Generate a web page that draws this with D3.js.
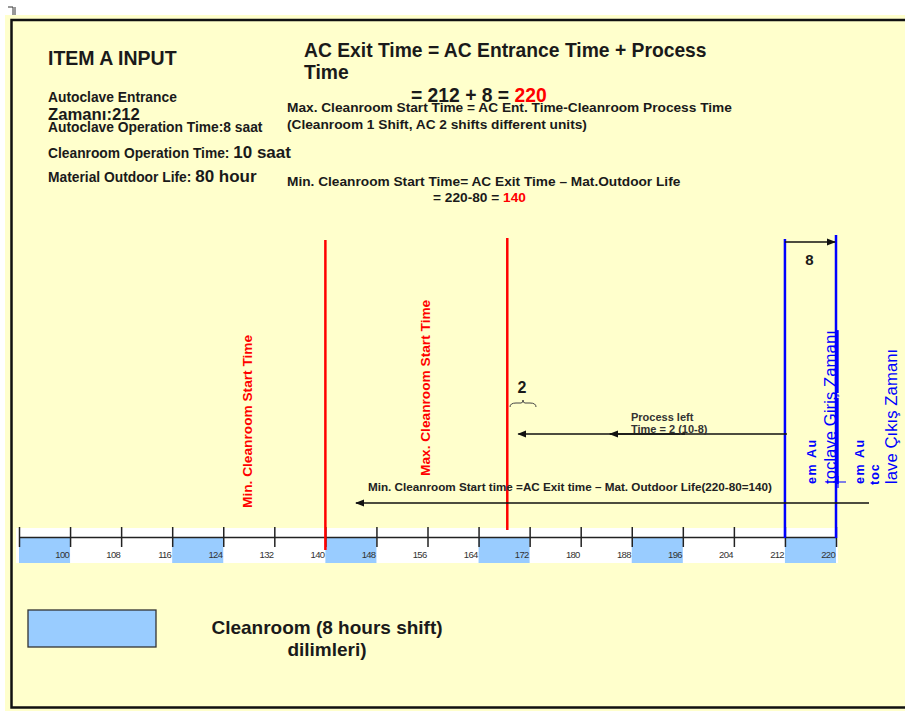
<!DOCTYPE html>
<html><head><meta charset="utf-8">
<script src="https://cdn.jsdelivr.net/npm/d3@7"></script>
<style>body{margin:0;background:#fff}svg{display:block;font-family:"Liberation Sans",Arial,sans-serif}</style>
</head><body><svg id="c" width="905" height="711"></svg>
<script>
// ---- data ----
const tickValues = [92,100,108,116,124,132,140,148,156,164,172,180,188,196,204,212,220];
const tickLabels = ["","100","108","116","124","132","140","148","156","164","172","180","188","196","204","212","220"];
const shiftStarts = [92,116,140,164,188,212];
const shiftLength = 8;
const redLines = [140, 168.5];     // min / max cleanroom start time
const blueLines = [212, 220];      // autoclave entrance / exit
const processLeft = 2;
const acProcess = 8;

const svg = d3.select("#c");
const x = d3.scaleLinear().domain([92,220]).range([19,836]);
const axisY = 537;

// background + frame
svg.append("rect").attr("x",5).attr("y",15).attr("width",900).attr("height",696).attr("fill","#ffffcc");
svg.append("rect").attr("x",11.5).attr("y",20).attr("width",1000).attr("height",687.5)
  .attr("fill","none").attr("stroke","#111").attr("stroke-width",2.5);
svg.append("path").attr("d","M8,7H13V15M15,7V15").attr("stroke","#333").attr("fill","none").attr("stroke-width",1);

const defs = svg.append("defs");
defs.append("marker").attr("id","ah").attr("viewBox","0 0 10 10").attr("refX",9).attr("refY",5)
  .attr("markerWidth",7).attr("markerHeight",7).attr("orient","auto-start-reverse")
  .append("path").attr("d","M0,1L10,5L0,9z").attr("fill","#111");

const dark = "#1a1a1a";
function txt(xp, yp, s, o={}) {
  const t = svg.append("text").attr("x",xp).attr("y",yp).attr("fill",o.fill||dark)
    .attr("font-size",o.size||12).attr("font-weight",o.weight||"bold").text(s);
  if (o.anchor) t.attr("text-anchor",o.anchor);
  if (o.ls) t.attr("letter-spacing",o.ls);
  if (o.rot) t.attr("transform",`rotate(-90,${xp},${yp})`);
  return t;
}

// ---- header texts ----
txt(48,65,"ITEM A INPUT",{size:19.5});
txt(48,102,"Autoclave Entrance",{size:13.8});
txt(48,120,"Zamanı:212",{size:16.7});
txt(48,132,"Autoclave Operation Time:8 saat",{size:13.8});
const t1 = txt(48,158,"Cleanroom Operation Time: ",{size:13.8});
t1.append("tspan").attr("font-size",17).text("10 saat");
const t2 = txt(48,182,"Material Outdoor Life: ",{size:13.8});
t2.append("tspan").attr("font-size",17).text("80 hour");

txt(304,57,"AC Exit Time = AC Entrance Time + Process",{size:19.3});
txt(304,79,"Time",{size:19.3});
const t3 = txt(411,102,"= 212 + 8 = ",{size:19.3});
t3.append("tspan").attr("fill","#ff0000").text("220");
txt(287,112,"Max. Cleanroom Start Time = AC Ent. Time-Cleanroom Process Time",{size:13.7});
txt(287,129,"(Cleanroom 1 Shift, AC 2 shifts different units)",{size:13.7});
txt(287,186,"Min. Cleanroom Start Time= AC Exit Time – Mat.Outdoor Life",{size:13.7});
const t4 = txt(433,202,"= 220-80 = ",{size:13.7});
t4.append("tspan").attr("fill","#ff0000").text("140");

// ---- timeline band ----
svg.append("rect").attr("x",16).attr("y",528).attr("width",822).attr("height",35).attr("fill","#ffffff");
svg.selectAll("rect.shift").data(shiftStarts).join("rect").attr("class","shift")
  .attr("x",d=>x(d)).attr("y",axisY).attr("width",d=>x(d+shiftLength)-x(d)).attr("height",26)
  .attr("fill","#99ccff");

const axis = d3.axisBottom(x).tickValues(tickValues).tickFormat("").tickSizeOuter(0).tickSizeInner(10);
const ag = svg.append("g").attr("transform",`translate(0,${axisY})`).call(axis);
ag.select(".domain").attr("stroke","#222").attr("stroke-width",1.5);
ag.selectAll(".tick line").attr("y1",-10).attr("y2",10).attr("stroke","#222").attr("stroke-width",1.5);
svg.selectAll("text.tl").data(tickValues).join("text").attr("class","tl")
  .attr("x",d=>x(d)-1).attr("y",558).attr("text-anchor","end").attr("font-size",9.5)
  .attr("letter-spacing",-0.7).attr("fill","#333").text((d,i)=>tickLabels[i]);

// ---- red lines ----
svg.selectAll("line.red").data(redLines).join("line").attr("class","red")
  .attr("x1",d=>x(d)).attr("x2",d=>x(d)).attr("y1",(d,i)=>i===0?240:238).attr("y2",(d,i)=>i===0?550:530)
  .attr("stroke","#ff0000").attr("stroke-width",2.5);
txt(252,508,"Min. Cleanroom Start Time",{size:13.7,fill:"#ff0000",rot:true});
txt(430,476,"Max. Cleanroom Start Time",{size:13.7,fill:"#ff0000",rot:true});

// ---- blue lines ----
svg.selectAll("line.blue").data(blueLines).join("line").attr("class","blue")
  .attr("x1",d=>x(d)).attr("x2",d=>x(d)).attr("y1",(d,i)=>i===0?239:235).attr("y2",538)
  .attr("stroke","#0000ff").attr("stroke-width",2.5);
svg.append("line").attr("x1",x(blueLines[0])).attr("x2",x(blueLines[1])-1).attr("y1",242).attr("y2",242)
  .attr("stroke","#111").attr("stroke-width",1.3).attr("marker-end","url(#ah)");
txt((x(blueLines[0])+x(blueLines[1]))/2-1,265,String(acProcess),{size:15,anchor:"middle"});

const blue = "#0000ff";
txt(816,484,"em Au",{size:12.5,fill:blue,rot:true,ls:1.6});
txt(836,484,"toclave Giriş Zamanı",{size:16.8,fill:blue,rot:true,weight:"normal"}).attr("text-decoration","underline");
svg.append("path").attr("d","M833,482H846M838,476V488").attr("stroke",blue).attr("stroke-width",1.2);
txt(864,484,"em Au",{size:12.5,fill:blue,rot:true,ls:1.6});
txt(879,485,"toc",{size:12.5,fill:blue,rot:true,ls:1});
txt(897,484,"lave Çıkış Zamanı",{size:16.8,fill:blue,rot:true,weight:"normal"});

// ---- process left arrow ----
const procY = 434;
svg.append("line").attr("x1",x(blueLines[0])+2).attr("x2",x(redLines[1])+11).attr("y1",procY).attr("y2",procY)
  .attr("stroke","#111").attr("stroke-width",1.3).attr("marker-end","url(#ah)");
svg.append("line").attr("x1",x(blueLines[0])-100).attr("x2",x(blueLines[0])-175).attr("y1",procY).attr("y2",procY)
  .attr("stroke","#111").attr("stroke-width",1.3).attr("marker-end","url(#ah)");
txt(631,421,"Process left",{size:11,fill:"#333"});
txt(631,433,"Time = 2 (10-8)",{size:11,fill:"#333"});
txt(522,393,String(processLeft),{size:16,anchor:"middle"});
svg.append("path").attr("d","M510,407Q510,403 516,403H521Q523,403 523,400Q523,403 525,403H530Q536,403 536,407")
  .attr("fill","none").attr("stroke","#444").attr("stroke-width",1);

// ---- min cleanroom arrow ----
const minY = 503;
svg.append("line").attr("x1",869).attr("x2",356).attr("y1",minY).attr("y2",minY)
  .attr("stroke","#111").attr("stroke-width",1.3).attr("marker-end","url(#ah)");
txt(368,491,"Min. Cleanroom Start time =AC Exit time – Mat. Outdoor Life(220-80=140)",{size:11.7,fill:"#222"});

// ---- legend ----
svg.append("rect").attr("x",28).attr("y",610).attr("width",128).attr("height",37)
  .attr("fill","#99ccff").attr("stroke","#333").attr("stroke-width",1.3);
txt(327,634,"Cleanroom (8 hours shift)",{size:19,anchor:"middle"});
txt(327,656,"dilimleri)",{size:19,anchor:"middle"});
</script></body></html>
